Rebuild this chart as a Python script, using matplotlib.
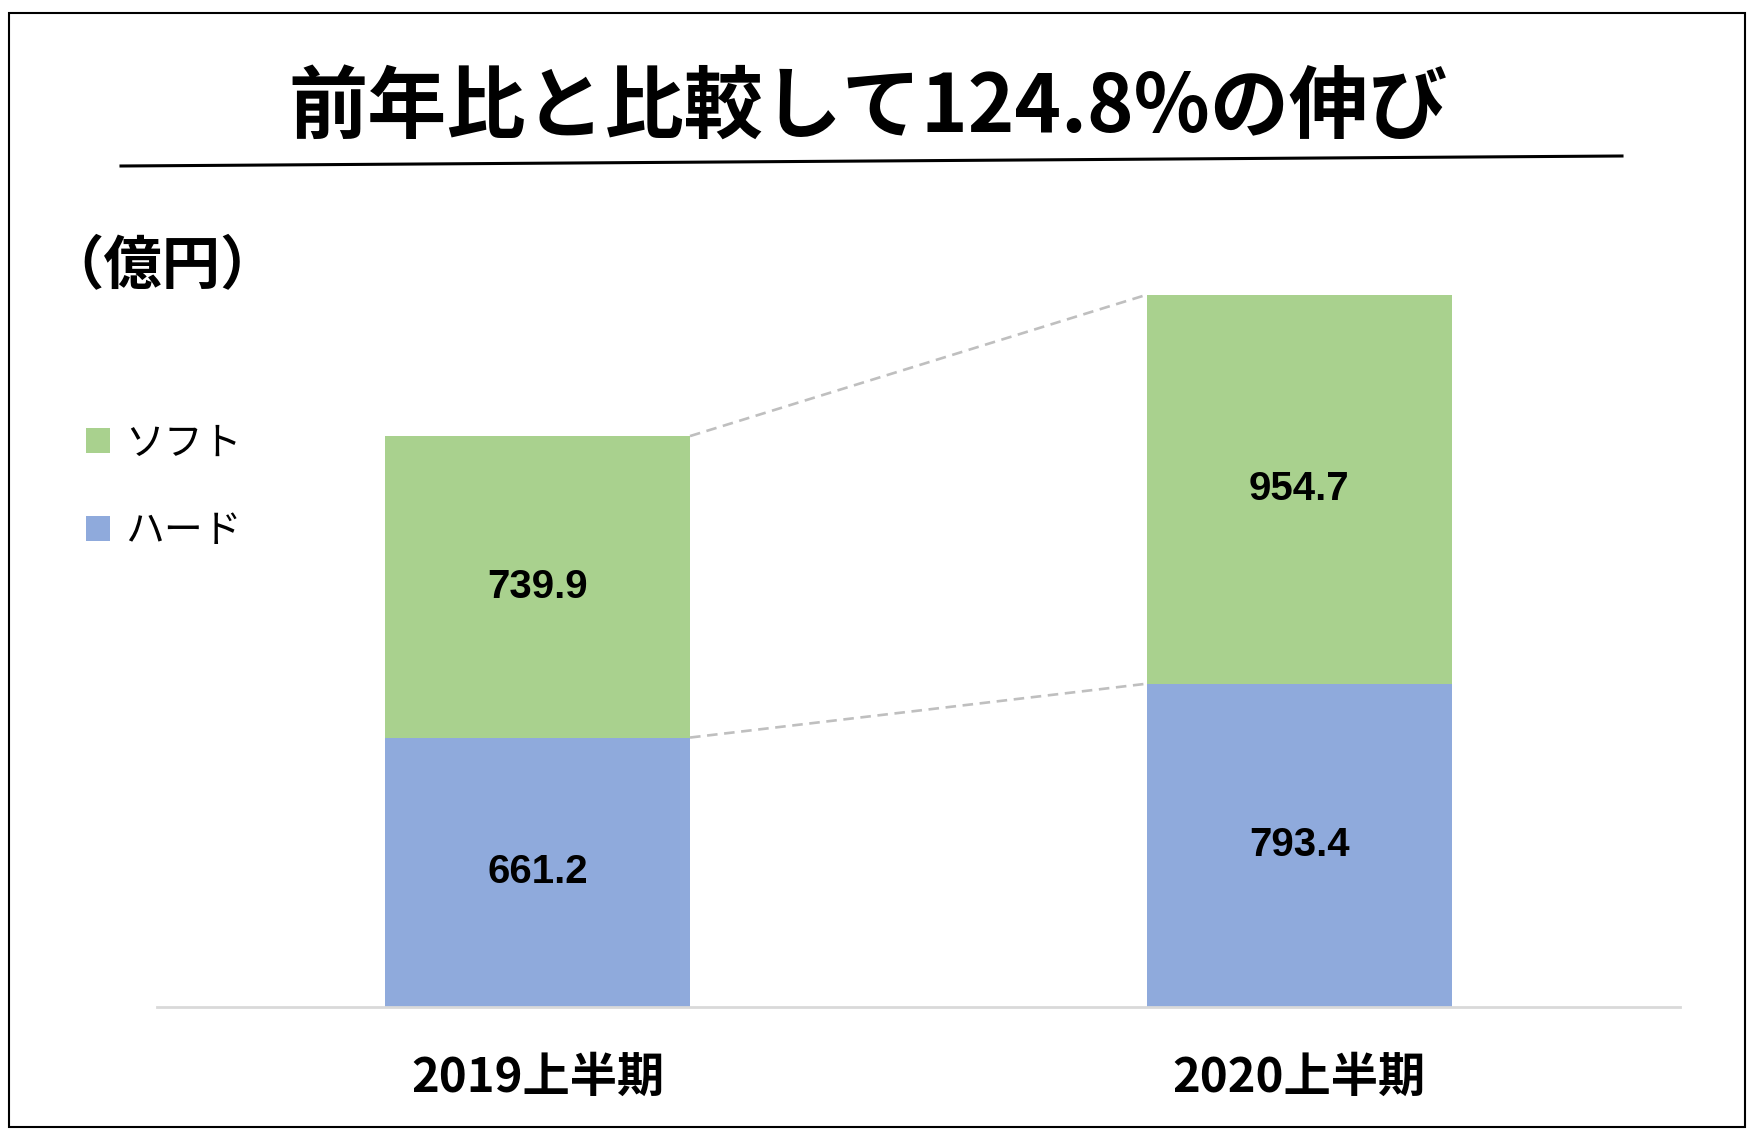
import matplotlib

matplotlib.use("Agg")
import matplotlib.pyplot as plt
from matplotlib.lines import Line2D
from matplotlib.patches import Rectangle
import numpy as np

plt.rcParams["font.family"] = ["Noto Sans CJK JP", "DejaVu Sans"]

# data (億円)
periods = ["2019上半期", "2020上半期"]
hard = [661.2, 793.4]
soft = [739.9, 954.7]
series_names = ["ハード", "ソフト"]
title = "前年比と比較して124.8%の伸び"
unit_label = "（億円）"

HARD_COLOR = "#8FAADC"
SOFT_COLOR = "#A9D18E"
BAR_WIDTH = 0.4

fig = plt.figure(figsize=(17.58, 11.36), dpi=100)
ax = fig.add_axes([0.0893, 0.1136, 0.8663, 0.6456])

x = np.arange(len(periods))
hard = np.array(hard)
soft = np.array(soft)

b_hard = ax.bar(x, hard, BAR_WIDTH, color=HARD_COLOR, label=series_names[0], zorder=2)
b_soft = ax.bar(x, soft, BAR_WIDTH, bottom=hard, color=SOFT_COLOR, label=series_names[1], zorder=2)

# values inside segments
for xi, h, s in zip(x, hard, soft):
    ax.text(xi, h / 2, f"{h:.1f}", ha="center", va="center", fontsize=29,
            fontweight="bold", family="Liberation Sans")
    ax.text(xi, h + s / 2, f"{s:.1f}", ha="center", va="center", fontsize=29,
            fontweight="bold", family="Liberation Sans")

# dashed connectors between bar tops
tops_hard = hard
tops_soft = hard + soft
for tops in (tops_hard, tops_soft):
    ax.plot([x[0] + BAR_WIDTH / 2, x[1] - BAR_WIDTH / 2], [tops[0], tops[1]],
            color="#BFBFBF", linestyle=(0, (4, 2.5)), linewidth=1.9, zorder=1)

ax.set_xlim(-0.5, 1.5)
ax.set_ylim(0, 1800)
ax.set_xticks(x)
ax.set_xticklabels(periods, fontsize=34, fontweight="bold")
ax.tick_params(axis="x", length=0, pad=34)
ax.set_yticks([])
for side in ("top", "left", "right"):
    ax.spines[side].set_visible(False)
ax.spines["bottom"].set_color("#D9D9D9")
ax.spines["bottom"].set_linewidth(2)

# title + underline
fig.text(0.494, 0.905, title, ha="center", va="center", fontsize=57, fontweight="bold")
fig.add_artist(Line2D([121 / 1758, 1622 / 1758], [1 - 166 / 1136, 1 - 156 / 1136],
                      color="black", linewidth=2.2, transform=fig.transFigure))

fig.text(0.026, 0.766, unit_label, ha="left", va="center", fontsize=42, fontweight="bold")

leg = fig.legend(handles=[b_soft, b_hard], labels=[series_names[1], series_names[0]],
                 loc="upper left", bbox_to_anchor=(0.040, 0.641), frameon=False,
                 fontsize=28, handlelength=0.62, handleheight=0.62, handletextpad=0.4,
                 labelspacing=1.22, borderaxespad=0)

# outer frame
fig.add_artist(Rectangle((0.0051, 0.0079), 0.9875, 0.9807, transform=fig.transFigure,
                         fill=False, edgecolor="black", linewidth=1.5))

fig.savefig("out.png", dpi=100)
